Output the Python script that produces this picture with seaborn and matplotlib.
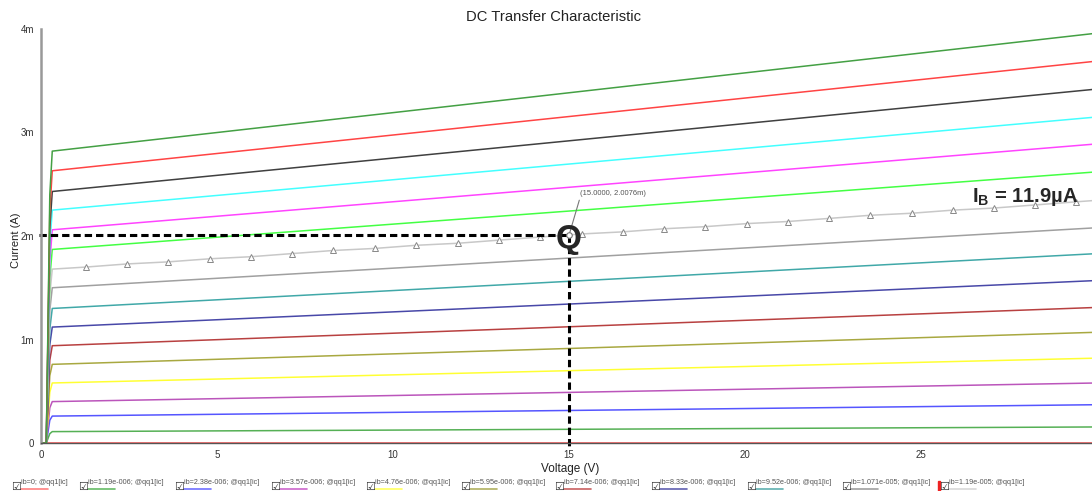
import numpy as np
import pandas as pd
import matplotlib
matplotlib.use('Agg')
import matplotlib.pyplot as plt
from matplotlib.ticker import FuncFormatter
import seaborn as sns

# sweep of base current, collector current (mA)
ib_labels = ['0', '1.19e-006', '2.38e-006', '3.57e-006', '4.76e-006', '5.95e-006',
             '7.14e-006', '8.33e-006', '9.52e-006', '1.071e-005', '1.19e-005',
             '1.309e-005', '1.428e-005', '1.547e-005', '1.666e-005', '1.785e-005', '1.904e-005']
v_pts = [0, 0.15, 0.25, 0.32, 30]
i_mid = [0, 0.09, 0.22, 0.34, 0.49, 0.65, 0.80, 0.95, 1.10, 1.28, 1.43,
         1.59, 1.75, 1.91, 2.07, 2.24, 2.40]
i_knee = [0, 0.11, 0.26, 0.40, 0.58, 0.76, 0.94, 1.12, 1.30, 1.50, 1.68,
          1.87, 2.06, 2.25, 2.43, 2.63, 2.82]
i_end = [0, 0.155, 0.37, 0.58, 0.82, 1.07, 1.31, 1.57, 1.83, 2.08, 2.345,
         2.62, 2.89, 3.15, 3.42, 3.69, 3.96]
colors = ['#ff5050', '#55b055', '#5555ff', '#bb55bb', '#ffff33', '#a8a840',
          '#b84040', '#4848a8', '#40a8a8', '#a0a0a0', '#c8c8c8',
          '#44ff44', '#ff44ff', '#44ffff', '#404040', '#ff4444', '#44a044']
legend_colors = ['#ff8080', '#66bb66', '#7070ff', '#cc66cc', '#ffff60', '#b0b060',
                 '#c86060', '#6060b0', '#60b0b0', '#a0a0a0', '#d8d8d8']

# triangle-marked points on the ib=11.9uA trace
mark_v = [1.28, 2.44, 3.61, 4.80, 5.97, 7.13, 8.30, 9.49, 10.65, 11.85, 13.01, 14.18,
          15.37, 16.53, 17.70, 18.86, 20.06, 21.22, 22.39, 23.55, 24.74, 25.91, 27.07,
          28.24, 29.40]
mark_i = [1.70, 1.73, 1.75, 1.78, 1.80, 1.83, 1.86, 1.88, 1.91, 1.93, 1.96, 1.99,
          2.02, 2.04, 2.07, 2.09, 2.12, 2.14, 2.17, 2.20, 2.22, 2.25, 2.27, 2.30, 2.33]
marked = '1.19e-005'

q_v, q_i = 15.0, 2.0076

rows = []
for k, lab in enumerate(ib_labels):
    if lab == marked:
        vs = v_pts[:4] + mark_v + v_pts[4:]
        vals = [0, 0, i_mid[k], i_knee[k]] + mark_i + [i_end[k]]
    else:
        vs = v_pts
        vals = [0, 0, i_mid[k], i_knee[k], i_end[k]]
    for v, i in zip(vs, vals):
        rows.append((lab, v, i))
df = pd.DataFrame(rows, columns=['ib', 'V', 'I'])

sns.set_style('white')
plt.rcParams['font.family'] = ['Liberation Sans', 'DejaVu Sans']
plt.rcParams['mathtext.fontset'] = 'custom'
plt.rcParams['mathtext.rm'] = 'Liberation Sans'
plt.rcParams['mathtext.bf'] = 'Liberation Sans:bold'

fig = plt.figure(figsize=(10.92, 4.91), dpi=100)
ax = fig.add_axes([41 / 1092, 48 / 491, 1056 / 1092, 414 / 491])

sns.lineplot(data=df, x='V', y='I', hue='ib', hue_order=ib_labels,
             palette=colors, legend=False, ax=ax, linewidth=1.1,
             estimator=None, sort=False)

tri = ax.get_lines()[ib_labels.index(marked)]
tri.set_marker('^')
tri.set_markersize(4)
tri.set_markerfacecolor('white')
tri.set_markeredgecolor('#888888')
tri.set_markeredgewidth(0.7)
tri.set_markevery(list(range(4, 4 + len(mark_v))))

# operating point
ax.plot([-0.05, q_v], [q_i, q_i], color='black', lw=2.2, ls=(0, (2.4, 1.3)), clip_on=False)
ax.plot([q_v, q_v], [q_i, -0.05], color='black', lw=2.2, ls=(0, (2.4, 1.3)), clip_on=False)
ax.plot([q_v], [q_i], marker='o', ms=4, mfc='white', mec='#777777', mew=0.8)
ax.annotate('(15.0000, 2.0076m)', xy=(q_v, q_i), xytext=(q_v + 0.32, q_i + 0.37),
            fontsize=5.5, color='#555555', ha='left', va='bottom',
            arrowprops=dict(arrowstyle='-', color='#777777', lw=0.8,
                            relpos=(0, 0), shrinkA=0, shrinkB=2))
ax.text(q_v, q_i - 0.04, 'Q', fontsize=24, fontweight='bold', ha='center', va='center')
ax.text(26.45, 2.38, r'I$_\mathbf{B}$ = 11.9µA', fontsize=14.5, fontweight='bold',
        ha='left', va='center')

ax.set_xlim(0, 30)
ax.set_ylim(0, 4)
ax.set_xticks([0, 5, 10, 15, 20, 25, 30])
ax.set_yticks([0, 1, 2, 3, 4])
ax.yaxis.set_major_formatter(FuncFormatter(lambda v, p: '0' if v == 0 else f'{int(v)}m'))
ax.tick_params(axis='y', direction='out', length=3, color='#888888', labelsize=7,
               labelcolor='#333333', pad=2)
ax.tick_params(axis='x', direction='in', length=3, color='#888888', labelsize=7,
               labelcolor='#333333', pad=5)
for s in ['top', 'right']:
    ax.spines[s].set_visible(False)
ax.spines['left'].set_color('#999999')
ax.spines['left'].set_linewidth(1.8)
ax.spines['bottom'].set_color('#555555')
ax.spines['bottom'].set_linewidth(1.0)

ax.set_xlabel('Voltage (V)', fontsize=8.5, color='#222222')
ax.set_ylabel('Current (A)', fontsize=8, color='#222222')
ax.xaxis.set_label_coords(0.501, -0.048)
ax.yaxis.set_label_coords(-0.019, 0.49)

fig.text(554 / 1092, 1 - 17 / 491, 'DC Transfer Characteristic', fontsize=10.6,
         ha='center', va='center', color='#222222')

# legend row along the bottom
box_x = [16, 83, 179, 275, 370, 465, 559, 655, 751, 846, 944]
for k, bx in enumerate(box_x):
    fig.text(bx / 1092, 1 - 487 / 491, '\u2611', fontsize=8, ha='center', va='center',
             family=['DejaVu Sans'], color='#333333')
    fig.text((bx + 5) / 1092, 1 - 482 / 491, f'ib={ib_labels[k]}; @qq1[ic]',
             fontsize=5.2, ha='left', va='center', color='#555555')
    fig.add_artist(plt.Line2D([(bx + 5) / 1092, (bx + 32) / 1092],
                              [1 - 488.5 / 491, 1 - 488.5 / 491],
                              color=legend_colors[k], lw=1.2, transform=fig.transFigure))
fig.add_artist(plt.Rectangle((938 / 1092, 1 - 491 / 491), 2.5 / 1092, 10 / 491,
                             color='#ee2222', transform=fig.transFigure))

fig.savefig('out.png', dpi=100)
